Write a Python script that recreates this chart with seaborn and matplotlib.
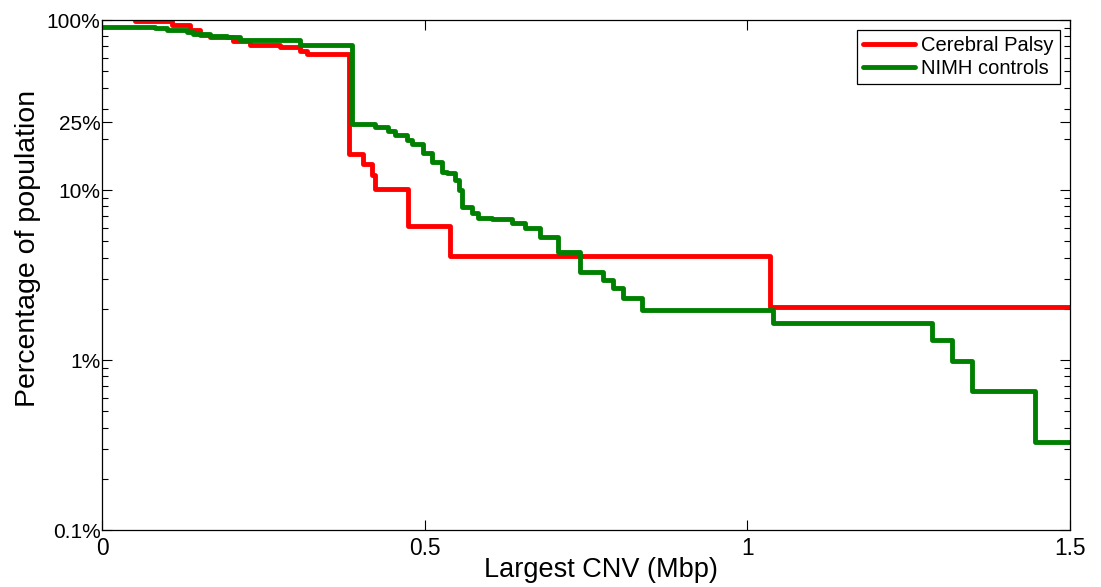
import numpy as np
import pandas as pd
import matplotlib
matplotlib.use("Agg")
import matplotlib.pyplot as plt
import seaborn as sns

# ---- data ----
cp_x = [0.051, 0.108, 0.136, 0.152, 0.167, 0.203, 0.229, 0.276, 0.307, 0.318,
        0.382, 0.404, 0.418, 0.423, 0.474, 0.539, 1.035, 1.5]
cp_y = [98.0, 93.9, 87.8, 81.6, 79.6, 75.5, 71.4, 69.4, 65.3, 63.3,
        16.3, 14.3, 12.2, 10.2, 6.1, 4.1, 2.04, 2.04]

nimh_x = [0.0, 0.082, 0.101, 0.132, 0.141, 0.167, 0.194, 0.214, 0.307,
          0.387, 0.423, 0.443, 0.454, 0.473, 0.480, 0.497, 0.511, 0.527,
          0.535, 0.547, 0.553, 0.558, 0.573, 0.583, 0.604, 0.635, 0.656,
          0.679, 0.707, 0.741, 0.776, 0.792, 0.807, 0.837, 1.040, 1.286,
          1.317, 1.348, 1.446, 1.5]
nimh_y = [90.6, 89.4, 87.4, 84.7, 82.7, 80.8, 79.1, 76.3, 71.3,
          24.4, 23.6, 22.3, 21.1, 19.7, 18.6, 16.4, 14.7, 12.8,
          12.6, 11.5, 10.0, 7.91, 7.29, 6.89, 6.71, 6.36, 5.95,
          5.31, 4.30, 3.31, 2.96, 2.64, 2.31, 1.97, 1.64, 1.32,
          0.99, 0.66, 0.33, 0.33]

series_names = ["Cerebral Palsy", "NIMH controls"]
series_colors = ["#ff0000", "#008000"]

ytick_vals = [0.1, 1, 10, 25, 100]
ytick_labels = ["0.1%", "1%", "10%", "25%", "100%"]
xtick_vals = [0, 0.5, 1, 1.5]
xtick_labels = ["0", "0.5", "1", "1.5"]

df = pd.concat([
    pd.DataFrame({"x": cp_x, "y": cp_y, "group": series_names[0]}),
    pd.DataFrame({"x": nimh_x, "y": nimh_y, "group": series_names[1]}),
], ignore_index=True)

sns.set_style("ticks")
plt.rcParams["font.family"] = ["Liberation Sans", "DejaVu Sans"]
plt.rcParams["xtick.direction"] = "in"
plt.rcParams["ytick.direction"] = "in"
plt.rcParams["text.color"] = "black"
plt.rcParams["axes.labelcolor"] = "black"
plt.rcParams["xtick.labelcolor"] = "black"
plt.rcParams["ytick.labelcolor"] = "black"

fig = plt.figure(figsize=(11.01, 5.87), dpi=100)
ax = fig.add_axes([102 / 1101, 57 / 587, 968 / 1101, 510 / 587])

sns.lineplot(data=df, x="x", y="y", hue="group", hue_order=series_names,
             palette=series_colors, estimator=None, sort=False,
             drawstyle="steps-post", linewidth=3.5, ax=ax, legend=True)

ax.set_yscale("log")
ax.set_xlim(0, 1.5)
ax.set_ylim(0.1, 100)
ax.set_yticks(ytick_vals)
ax.set_yticklabels(ytick_labels)
ax.set_xticks(xtick_vals)
ax.set_xticklabels(xtick_labels)

ax.tick_params(axis="both", which="major", direction="in", length=7, width=0.8,
               top=True, right=True, color="black", labelcolor="black")
ax.tick_params(axis="x", which="major", labelsize=16.4, pad=5)
ax.tick_params(axis="y", which="major", labelsize=15, pad=1)
ax.tick_params(axis="y", which="minor", direction="in", length=4, width=0.8,
               left=True, right=True, color="black")
for s in ax.spines.values():
    s.set_visible(True)
    s.set_linewidth(0.9)
    s.set_color("black")

ax.set_xlabel("Largest CNV (Mbp)", fontsize=19.5, labelpad=-2, color="black")
ax.set_ylabel("Percentage of population", fontsize=20.5, labelpad=4, color="black")
ax.xaxis.label.set_x(0.515)
ax.yaxis.label.set_y(0.553)

leg = ax.legend(loc="upper right", fontsize=14.5, frameon=True, fancybox=False,
                edgecolor="black", framealpha=1, handlelength=2.6,
                borderpad=0.3, labelspacing=0.2, handletextpad=0.3,
                borderaxespad=0.5)
leg.get_frame().set_linewidth(0.9)
for t in leg.get_texts():
    t.set_color("black")
for h in leg.get_lines():
    h.set_linewidth(3.5)

fig.savefig("out.png", dpi=100)
